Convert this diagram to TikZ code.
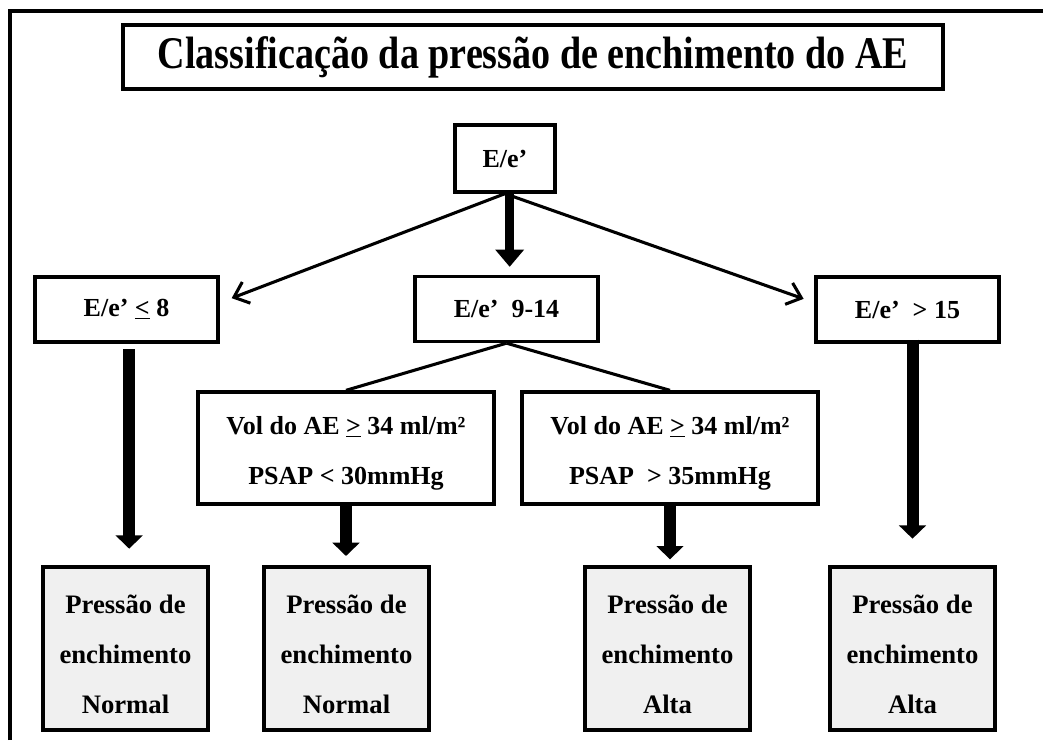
\documentclass[tikz,border=0pt]{standalone}
\usepackage{fontspec}
\setmainfont{Liberation Serif}
\usepackage{graphicx}
\usetikzlibrary{arrows.meta}
\newcommand{\dropstrut}{\rule{0pt}{22pt}}
\begin{document}
\begin{tikzpicture}[x=0.75pt,y=-0.75pt,
  box/.style={draw=black, line width=2.5pt, rectangle, inner sep=0pt, align=center,
    font=\bfseries\fontsize{19.5}{37.5}\selectfont},
  titlebox/.style={box, minimum width=615pt, minimum height=48pt},
  ratiobox/.style={box, minimum width=137.25pt, minimum height=48.75pt},
  volbox/.style={box, minimum width=222pt, minimum height=84pt},
  resbox/.style={box, fill={rgb,255:red,240;green,240;blue,240}, minimum width=123.75pt, minimum height=122.25pt,
    font=\bfseries\fontsize{20}{37.5}\selectfont},
  thinline/.style={line width=2.3pt},
  thinarrow/.style={line width=2.3pt, -{Straight Barb[length=10pt,width=17pt]}},
  thickarrow/.style={line width=9pt, -{Triangle[length=10pt,width=20pt]}},
]
\useasboundingbox (0,0) rectangle (1043,740);
% outer frame
\draw[line width=3.2pt] (10,740) -- (10,11) -- (1043,11);

\node[titlebox] (title) at (533,57) {\scalebox{0.84}[1]{\fontsize{34}{38}\selectfont Classificação da pressão de enchimento do AE}};

\node[box, minimum width=75pt, minimum height=50.25pt] (ee) at (505,158.5) {E/e’};

\node[ratiobox] (ee8) at (126.5,309.5) {E/e’ \underline{<} 8};
\node[ratiobox] (ee914) at (506.5,309) {E/e’\ \ 9-14};
\node[ratiobox] (ee15) at (907.5,309.5) {E/e’\ \ > 15};

\node[volbox] (vol1) at (346,448) {\dropstrut Vol do AE \underline{>} 34 ml/m²\\PSAP < 30mmHg};
\node[volbox] (vol2) at (670,448) {\dropstrut Vol do AE \underline{>} 34 ml/m²\\PSAP\ \ > 35mmHg};

\node[resbox] (b1) at (125.5,648.5) {\dropstrut Pressão de\\enchimento\\Normal};
\node[resbox] (b2) at (346.5,648.5) {\dropstrut Pressão de\\enchimento\\Normal};
\node[resbox] (b3) at (667.5,648.5) {\dropstrut Pressão de\\enchimento\\Alta};
\node[resbox] (b4) at (912.5,648.5) {\dropstrut Pressão de\\enchimento\\Alta};

% connectors
\draw[line width=7pt, -{Triangle[length=13pt,width=21pt]}, shorten >=6pt]
  ([xshift=3.5pt]ee.south) -- ([xshift=3.5pt]ee.south |- ee914.north);
\draw[thinarrow] (ee.south) -- ([xshift=9pt,yshift=8.5pt]ee8.east);
\draw[thinarrow] (ee.south) -- ([xshift=-8pt,yshift=8pt]ee15.west);

\draw[thinline] (ee914.south) -- (vol1.north);
\draw[thinline] (ee914.south) -- (vol2.north);

\draw[thickarrow, shorten <=4pt, shorten >=12.5pt] ([xshift=2pt]ee8.south) -- ([xshift=2pt]ee8.south |- b1.north);
\draw[thickarrow, shorten >=7pt] (vol1.south) -- (vol1.south |- b2.north);
\draw[thickarrow, shorten >=4.5pt] (vol2.south) -- (vol2.south |- b3.north);
\draw[thickarrow, shorten <=-3pt, shorten >=20pt] (b4.north |- ee15.south) -- (b4.north);
\end{tikzpicture}
\end{document}
